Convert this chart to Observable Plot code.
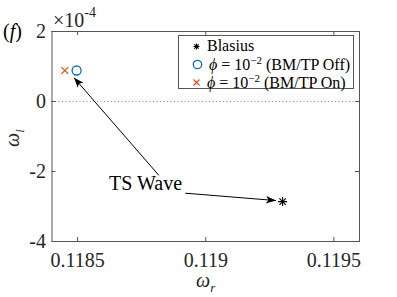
<!DOCTYPE html>
<html>
<head>
<meta charset="utf-8">
<script src="https://cdn.jsdelivr.net/npm/d3@7"></script>
<script src="https://cdn.jsdelivr.net/npm/@observablehq/plot@0.6"></script>
<style>
  body { margin: 0; background: white; }
  #wrap { position: relative; width: 397px; height: 297px; color: #262626; }
  #wrap, #wrap * { font-family: "Liberation Serif", "Times New Roman", serif !important; }
  .abs { position: absolute; white-space: nowrap; line-height: 1; }
  #legend { position: absolute; left: 178px; top: 35px; width: 176px; height: 54px; border: 1px solid #555; background: white; box-sizing: border-box; }
  .row { position: absolute; left: 0; height: 18px; display: flex; align-items: center; font-size: 16px; color: #000; }
  .row svg { margin-left: 13px; margin-right: 6px; }
</style>
</head>
<body>
<div id="wrap"></div>
<script>
// ---- data ----
const seriesNames = ["Blasius", "phi=1e-2 (BM/TP Off)", "phi=1e-2 (BM/TP On)"];
const omegaR = [0.11930, 0.118496, 0.11845];
const omegaI = [-2.86, 0.886, 0.886];   // in units of 1e-4
const xTicks = [0.1185, 0.119, 0.1195];
const yTicks = [-4, -2, 0, 2];
const xDomain = [0.1184, 0.1196];
const yDomain = [-4, 2];
// annotation: "TS Wave" with two arrows
const noteText = ["TS Wave"];
const noteX = [0.118765];
const noteY = [-2.34];
const arrowX1 = [0.118817, 0.11892];
const arrowY1 = [-2.11, -2.62];
const arrowX2 = [0.118486, 0.119274];
const arrowY2 = [0.677, -2.83];

const points = seriesNames.map((s, i) => ({series: s, x: omegaR[i], y: omegaI[i]}));
const arrows = arrowX1.map((_, i) => ({x1: arrowX1[i], y1: arrowY1[i], x2: arrowX2[i], y2: arrowY2[i]}));
const notes = noteText.map((t, i) => ({text: t, x: noteX[i], y: noteY[i]}));

const W = 397, H = 297, mL = 51.5, mR = 38, mT = 31, mB = 56;
const pw = W - mL - mR, ph = H - mT - mB;
const axisColor = "#555";
const FONT = "'Liberation Serif', 'Times New Roman', serif";

// filled MATLAB-like arrow head, tip at origin, pointing up
const headSymbol = {
  draw(ctx) {
    ctx.moveTo(0, 0);
    ctx.lineTo(-3.8, 10);
    ctx.lineTo(0, 7.5);
    ctx.lineTo(3.8, 10);
    ctx.closePath();
  }
};

function build(headAngles) {
  const marks = [
    Plot.ruleY([0], {stroke: "#888", strokeDasharray: "1,2.5", strokeWidth: 1}),
    Plot.frame({stroke: axisColor, strokeWidth: 1}),
    Plot.ruleX(xTicks, {x: d => d, insetTop: ph - 4, stroke: axisColor}),
    Plot.ruleX(xTicks, {x: d => d, insetBottom: ph - 4, stroke: axisColor}),
    Plot.ruleY(yTicks, {y: d => d, insetRight: pw - 4, stroke: axisColor}),
    Plot.ruleY(yTicks, {y: d => d, insetLeft: pw - 4, stroke: axisColor}),
    Plot.axisX(xTicks, {tickSize: 0, tickPadding: 11, fontSize: 20, fontFamily: FONT, tickFormat: d => String(d), label: null}),
    Plot.axisY(yTicks, {tickSize: 0, tickPadding: 6, fontSize: 20, fontFamily: FONT, tickFormat: d => String(d), label: null}),
    Plot.link(arrows, {x1: "x1", y1: "y1", x2: "x2", y2: "y2", stroke: "black", strokeWidth: 1}),
    Plot.text(notes, {x: "x", y: "y", text: "text", fontSize: 20, fontFamily: FONT, fill: "black"}),
    Plot.dot(points.filter(d => d.series === seriesNames[0]), {x: "x", y: "y", symbol: "plus", r: 3, stroke: "black", strokeWidth: 1.1}),
    Plot.dot(points.filter(d => d.series === seriesNames[0]), {x: "x", y: "y", symbol: "times", r: 3, stroke: "black", strokeWidth: 1.1}),
    Plot.dot(points.filter(d => d.series === seriesNames[1]), {x: "x", y: "y", symbol: "circle", r: 4.5, stroke: "#0072BD", fill: "none", strokeWidth: 1.3}),
    Plot.dot(points.filter(d => d.series === seriesNames[2]), {x: "x", y: "y", symbol: "times", r: 3.2, stroke: "#D95319", strokeWidth: 1.2})
  ];
  if (headAngles) {
    marks.push(Plot.dot(arrows, {x: "x2", y: "y2", symbol: headSymbol, r: 5, fill: "black", stroke: "none", rotate: (d, i) => headAngles[i]}));
  }
  return Plot.plot({
    width: W, height: H,
    marginLeft: mL, marginRight: mR, marginTop: mT, marginBottom: mB,
    style: {fontFamily: FONT, fontSize: "20px", color: "#262626", background: "white"},
    x: {domain: xDomain, label: null},
    y: {domain: yDomain, label: null},
    marks
  });
}

// first pass: use the library's scales to get on-screen arrow directions
const probe = build(null);
const sx = probe.scale("x"), sy = probe.scale("y");
const angles = arrows.map(a => {
  const dx = sx.apply(a.x2) - sx.apply(a.x1);
  const dy = sy.apply(a.y2) - sy.apply(a.y1);
  return Math.atan2(dx, -dy) * 180 / Math.PI;
});
const chart = build(angles);

const wrap = document.getElementById("wrap");
wrap.appendChild(chart);

function addHTML(html, css) {
  const d = document.createElement("div");
  d.className = "abs";
  d.innerHTML = html;
  Object.assign(d.style, css);
  wrap.appendChild(d);
  return d;
}
// panel tag and exponent
addHTML("(<i>f</i>)", {left: "3px", top: "21px", fontSize: "20px", color: "#000"});
addHTML("×10<sup style='font-size:14px;position:relative;top:-2px'>-4</sup>", {left: "53px", top: "8px", fontSize: "20px"});
// axis labels
addHTML("<i>ω</i><sub style='font-size:13px'><i>r</i></sub>", {left: "196px", top: "270px", fontSize: "20px"});
addHTML("<i>ω</i><sub style='font-size:13px'><i>i</i></sub>", {left: "5px", top: "126px", fontSize: "20px", transform: "rotate(-90deg)", transformOrigin: "center"});

// legend
const legend = document.createElement("div");
legend.id = "legend";
const legendSymbols = [
  `<svg width="9" height="9" viewBox="-4.5 -4.5 9 9"><path d="M-3,0H3M0,-3V3M-2.2,-2.2L2.2,2.2M-2.2,2.2L2.2,-2.2" stroke="black" stroke-width="1.1"/></svg>`,
  `<svg width="11" height="11" viewBox="-5.5 -5.5 11 11"><circle r="4.2" fill="none" stroke="#0072BD" stroke-width="1.3"/></svg>`,
  `<svg width="9" height="9" viewBox="-4.5 -4.5 9 9"><path d="M-3,-3L3,3M-3,3L3,-3" stroke="#D95319" stroke-width="1.2"/></svg>`
];
const legendLabels = [
  "Blasius",
  "<i>ϕ</i>&nbsp;= 10<sup style='font-size:11px'>−2</sup>&nbsp;(BM/TP Off)",
  "<i>ϕ</i>&nbsp;= 10<sup style='font-size:11px'>−2</sup>&nbsp;(BM/TP On)"
];
legendLabels.forEach((lab, i) => {
  const r = document.createElement("div");
  r.className = "row";
  r.style.top = (1 + i * 18) + "px";
  r.innerHTML = legendSymbols[i] + "<span>" + lab + "</span>";
  legend.appendChild(r);
});
wrap.appendChild(legend);
</script>
</body>
</html>
